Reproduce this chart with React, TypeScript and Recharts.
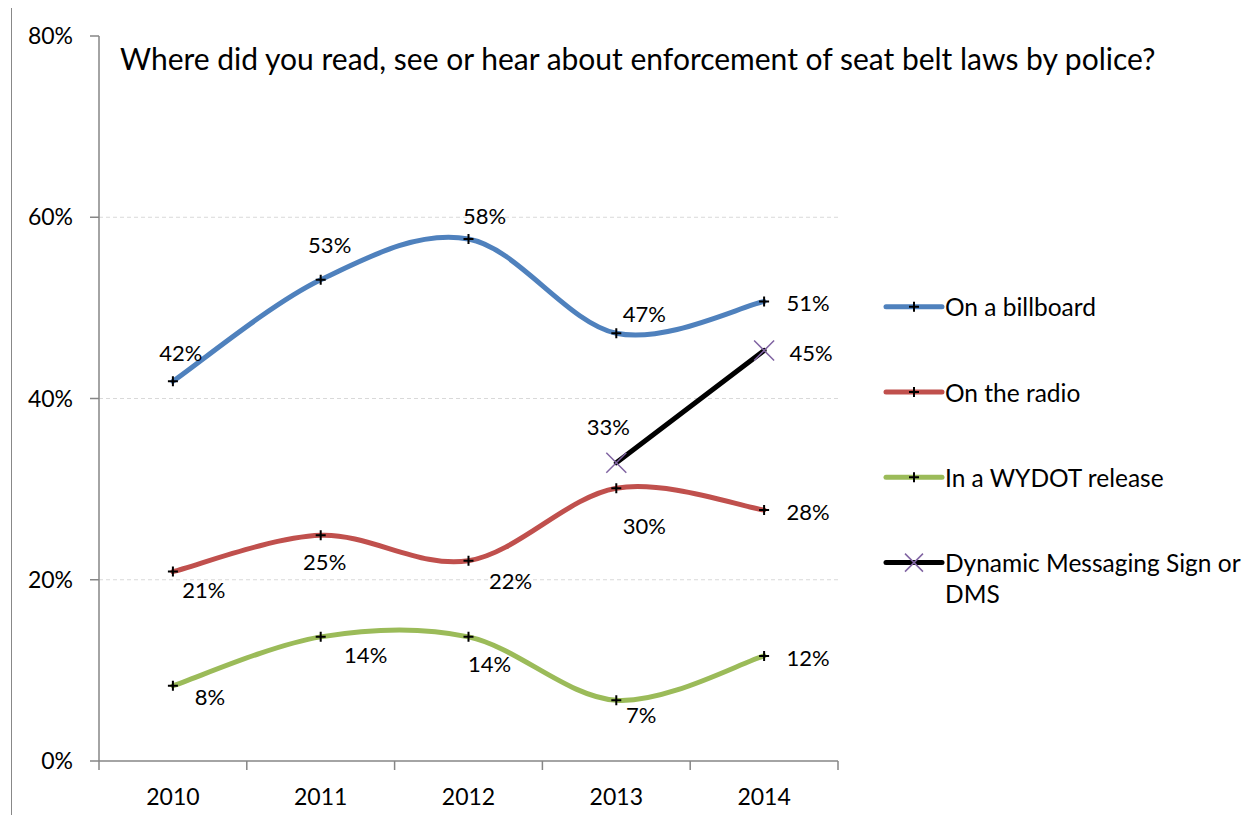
import React from "react";
import { LineChart, Line, XAxis, YAxis, ReferenceLine, Legend, LabelList } from "recharts";

const years = ["2010", "2011", "2012", "2013", "2014"];
const billboard = [41.9, 53.1, 57.6, 47.2, 50.7];
const radio = [20.9, 24.9, 22.1, 30.1, 27.7];
const wydot = [8.3, 13.7, 13.7, 6.7, 11.6];
const dms = [null, null, null, 32.9, 45.3];
const yTicks = [0, 20, 40, 60, 80];
const gridValues = [20, 40, 60];

const seriesOrder = ["billboard", "radio", "wydot", "dms"];
const seriesNames = {
  billboard: "On a billboard",
  radio: "On the radio",
  wydot: "In a WYDOT release",
  dms: "Dynamic Messaging Sign or DMS",
};

// label offsets (centre of text relative to the point), hand placed like the excel original
const labelPos: Record<string, (number[] | null)[]> = {
  billboard: [[8, -29], [9, -35], [16, -24], [28, -20], [44, 1]],
  radio: [[31, 18], [4, 26], [42, 20], [28, 37], [44, 2]],
  wydot: [[37, 11], [45, 18], [21, 27], [25, 14], [44, 2]],
  dms: [null, null, null, [-8, -36], [47, 2]],
};

const data = years.map((year, i) => ({
  year,
  billboard: billboard[i],
  radio: radio[i],
  wydot: wydot[i],
  dms: dms[i],
}));

const AXIS = "#868686";
const PURPLE = "#8064A2";

// excel style smoothing: catmull-rom bezier through every point
const excelCurve = (context: any) => {
  let pts: number[][] = [];
  return {
    areaStart() {},
    areaEnd() {},
    lineStart() {
      pts = [];
    },
    point(x: number, y: number) {
      pts.push([+x, +y]);
    },
    lineEnd() {
      const n = pts.length;
      if (!n) return;
      context.moveTo(pts[0][0], pts[0][1]);
      for (let i = 0; i < n - 1; i++) {
        const p0 = pts[Math.max(i - 1, 0)];
        const p1 = pts[i];
        const p2 = pts[i + 1];
        const p3 = pts[Math.min(i + 2, n - 1)];
        context.bezierCurveTo(
          p1[0] + (p2[0] - p0[0]) / 6,
          p1[1] + (p2[1] - p0[1]) / 6,
          p2[0] - (p3[0] - p1[0]) / 6,
          p2[1] - (p3[1] - p1[1]) / 6,
          p2[0],
          p2[1]
        );
      }
    },
  };
};

const plusPath = (x: number, y: number, r: number) => `M${x - r},${y}h${2 * r}M${x},${y - r}v${2 * r}`;
const crossPath = (x: number, y: number, r: number) =>
  `M${x - r},${y - r}L${x + r},${y + r}M${x - r},${y + r}L${x + r},${y - r}`;

const PlusDot = (props: any) => {
  const { cx, cy, value, index } = props;
  if (cx == null || cy == null || value == null) return <g key={`p-${index}`} />;
  return <path key={`p-${index}`} d={plusPath(cx, cy, 5)} stroke="#000" strokeWidth={2} fill="none" />;
};

const CrossDot = (props: any) => {
  const { cx, cy, value, index } = props;
  if (cx == null || cy == null || value == null) return <g key={`x-${index}`} />;
  return <path key={`x-${index}`} d={crossPath(cx, cy, 10)} stroke={PURPLE} strokeWidth={1.5} fill="none" />;
};

const makeLabel = (key: string) => (props: any) => {
  const { x, y, value, index } = props;
  const pos = labelPos[key][index];
  if (value == null || !pos) return null;
  return (
    <text x={x + pos[0]} y={y + pos[1]} textAnchor="middle" dominantBaseline="central" fontSize={22} fill="#000">
      {Math.round(value)}%
    </text>
  );
};

const XTick = (props: any) => {
  const { x, y, payload, index, visibleTicksCount, width } = props;
  const half = payload.offset || width / visibleTicksCount / 2;
  return (
    <g>
      <line x1={x - half} x2={x - half} y1={y} y2={y + 9} stroke={AXIS} strokeWidth={1.5} />
      {index === visibleTicksCount - 1 && (
        <line x1={x + half} x2={x + half} y1={y} y2={y + 9} stroke={AXIS} strokeWidth={1.5} />
      )}
      <text x={x} y={y + 35} textAnchor="middle" dominantBaseline="central" fontSize={23} fill="#000">
        {payload.value}
      </text>
    </g>
  );
};

const wrapWords = (s: string, max: number) => {
  const lines: string[] = [];
  let cur = "";
  s.split(" ").forEach((w) => {
    if (cur && (cur + " " + w).length > max) {
      lines.push(cur);
      cur = w;
    } else cur = cur ? cur + " " + w : w;
  });
  if (cur) lines.push(cur);
  return lines;
};

const renderLegend = (props: any) => {
  const payload = [...(props.payload || [])].sort(
    (a: any, b: any) => seriesOrder.indexOf(a.dataKey) - seriesOrder.indexOf(b.dataKey)
  );
  return (
    <svg width={386} height={350}>
      {payload.map((entry: any, i: number) => {
        const cy = 36.7 + i * 85.3;
        const lines = wrapWords(entry.value, 25);
        return (
          <g key={entry.value}>
            <line x1={16} x2={72} y1={cy} y2={cy} stroke={entry.color} strokeWidth={5} strokeLinecap="round" />
            {entry.dataKey === "dms" ? (
              <path d={crossPath(44, cy, 9)} stroke={PURPLE} strokeWidth={1.5} fill="none" />
            ) : (
              <path d={plusPath(44, cy, 5)} stroke="#000" strokeWidth={2} fill="none" />
            )}
            {lines.map((l, j) => (
              <text key={j} x={75} y={cy + j * 30.5} dominantBaseline="central" fontSize={24.5} fill="#000">
                {l}
              </text>
            ))}
          </g>
        );
      })}
    </svg>
  );
};

export default function App() {
  return (
    <div style={{ position: "relative", width: 1240, height: 807, fontFamily: "Lato, sans-serif" }}>
      <div
        style={{
          position: "absolute",
          left: 14,
          top: -21,
          fontFamily: "'Liberation Serif', serif",
          fontSize: 16,
          lineHeight: "18px",
          whiteSpace: "nowrap",
          color: "#000",
        }}
      >
        Figure 6: Seat belt enforcement heard, read, seen or heard, by year, 2010-2014
      </div>
      <div
        style={{
          position: "absolute",
          left: 3,
          top: -1,
          width: 1245,
          height: 808,
          boxSizing: "border-box",
          borderLeft: "1.5px solid #888",
          borderTop: "1.5px solid #888",
        }}
      />
      <div
        style={{
          position: "absolute",
          left: 112,
          top: 33,
          fontSize: 30,
          lineHeight: "34px",
          whiteSpace: "nowrap",
          color: "#000",
          zIndex: 2,
        }}
      >
        Where did you read, see or hear about enforcement of seat belt laws by police?
      </div>
      <LineChart width={1240} height={807} data={data} margin={{ top: 28, right: 410, bottom: 14, left: 31 }}>
        {gridValues.map((v) => (
          <ReferenceLine key={v} y={v} stroke="#d9d9d9" strokeDasharray="4 3" />
        ))}
        <XAxis
          dataKey="year"
          scale="band"
          interval={0}
          height={40}
          axisLine={{ stroke: AXIS, strokeWidth: 1.5 }}
          tickLine={false}
          tickSize={0}
          tickMargin={0}
          tick={<XTick />}
        />
        <YAxis
          domain={[0, 80]}
          ticks={yTicks}
          width={60}
          tickFormatter={(v) => `${v}%`}
          axisLine={{ stroke: AXIS, strokeWidth: 1.5 }}
          tickLine={{ stroke: AXIS, strokeWidth: 1.5 }}
          tickSize={9}
          tickMargin={17}
          tick={{ fill: "#000", fontSize: 23 }}
        />
        <Legend
          layout="vertical"
          align="center"
          verticalAlign="middle"
          content={renderLegend}
          wrapperStyle={{ left: 862, top: 262, width: 386, height: 350 }}
        />
        <Line
          dataKey="billboard"
          name={seriesNames.billboard}
          type={excelCurve as any}
          stroke="#4F81BD"
          strokeWidth={5}
          strokeLinecap="round"
          dot={PlusDot}
          activeDot={false}
          isAnimationActive={false}
        >
          <LabelList dataKey="billboard" content={makeLabel("billboard")} />
        </Line>
        <Line
          dataKey="radio"
          name={seriesNames.radio}
          type={excelCurve as any}
          stroke="#C0504D"
          strokeWidth={5}
          strokeLinecap="round"
          dot={PlusDot}
          activeDot={false}
          isAnimationActive={false}
        >
          <LabelList dataKey="radio" content={makeLabel("radio")} />
        </Line>
        <Line
          dataKey="wydot"
          name={seriesNames.wydot}
          type={excelCurve as any}
          stroke="#9BBB59"
          strokeWidth={5}
          strokeLinecap="round"
          dot={PlusDot}
          activeDot={false}
          isAnimationActive={false}
        >
          <LabelList dataKey="wydot" content={makeLabel("wydot")} />
        </Line>
        <Line
          dataKey="dms"
          name={seriesNames.dms}
          type="linear"
          stroke="#000"
          strokeWidth={5}
          strokeLinecap="round"
          dot={CrossDot}
          activeDot={false}
          isAnimationActive={false}
        >
          <LabelList dataKey="dms" content={makeLabel("dms")} />
        </Line>
      </LineChart>
    </div>
  );
}
